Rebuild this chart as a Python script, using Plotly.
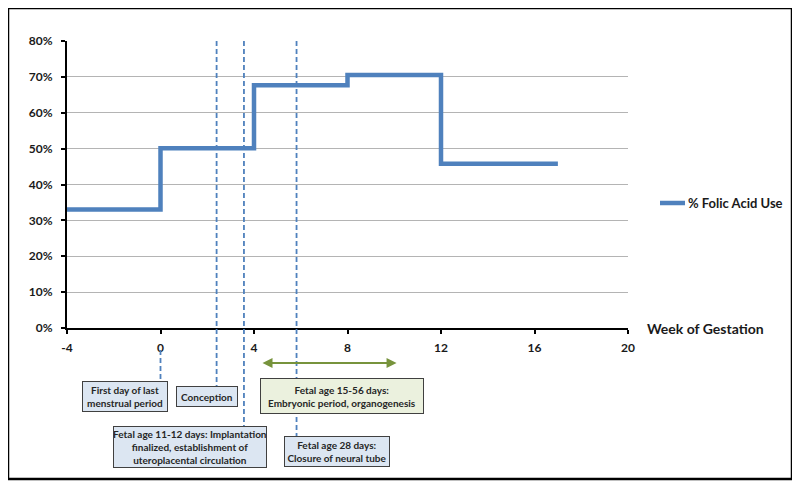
import plotly.graph_objects as go

# ---- data ----
weeks = [-4, 0, 4, 8, 12, 17]
folic_use = [0.33, 0.501, 0.677, 0.705, 0.458, 0.458]
series_name = "% Folic Acid Use"
x_ticks = [-4, 0, 4, 8, 12, 16, 20]
x_tick_labels = ["-4", "0", "4", "8", "12", "16", "20"]
y_ticks = [0, 0.1, 0.2, 0.3, 0.4, 0.5, 0.6, 0.7, 0.8]
y_tick_labels = ["0%", "10%", "20%", "30%", "40%", "50%", "60%", "70%", "80%"]

event_weeks = {"lmp": 0.0, "conception": 2.4, "implantation": 3.57, "neural": 5.82}
embryonic_start, embryonic_end = 4.3, 10.1

# ---- layout geometry (reference-screen pixels) ----
OFF = 8  # page body margin
L, R, T, B = 67, 628, 41, 328
W, H = 800 - OFF, 487 - OFF
XMIN, XMAX = -4, 20
pxw = (R - L) / (XMAX - XMIN)


def px2x(px):
    return (px - L) / pxw + XMIN


def py2p(py):
    return (B - py) / (B - T)


def px2p(px):
    return (px - L) / (R - L)


FONT = "Lato, 'Open Sans', sans-serif"
BLUE = "#4F81BD"
GREEN = "#77933C"
TXT = "#1a1a1a"

fig = go.Figure()
fig.add_trace(go.Scatter(
    x=weeks, y=folic_use, mode="lines", line_shape="hv",
    line=dict(color=BLUE, width=4.5), name=series_name, showlegend=False,
))

shapes = []
# outer frame
shapes.append(dict(type="rect", xref="paper", yref="paper",
                   x0=px2p(8), x1=px2p(792), y0=py2p(479), y1=py2p(8),
                   line=dict(color="black", width=2.5), layer="below"))

dash = dict(color=BLUE, width=1.8, dash="5px,3px")
# dashed event lines
shapes.append(dict(type="line", xref="x", yref="paper",
                   x0=event_weeks["lmp"], x1=event_weeks["lmp"],
                   y0=py2p(350), y1=py2p(381), line=dash))
shapes.append(dict(type="line", xref="x", yref="paper",
                   x0=event_weeks["conception"], x1=event_weeks["conception"],
                   y0=py2p(41), y1=py2p(386), line=dash))
shapes.append(dict(type="line", xref="x", yref="paper",
                   x0=event_weeks["implantation"], x1=event_weeks["implantation"],
                   y0=py2p(41), y1=py2p(426), line=dash))
shapes.append(dict(type="line", xref="x", yref="paper",
                   x0=event_weeks["neural"], x1=event_weeks["neural"],
                   y0=py2p(41), y1=py2p(436), line=dash))

# manual legend sample line
shapes.append(dict(type="line", xref="paper", yref="paper",
                   x0=px2p(660), x1=px2p(685), y0=py2p(203), y1=py2p(203),
                   line=dict(color=BLUE, width=4.5)))

annotations = []
box_font = dict(family=FONT, size=10, color="#262626")


def box(cx, cy, w, h, text, bg):
    annotations.append(dict(
        xref="x", yref="paper", x=px2x(cx), y=py2p(cy),
        xanchor="center", yanchor="middle", text=text, showarrow=False,
        width=w, height=h, bgcolor=bg, bordercolor="#404040", borderwidth=1,
        borderpad=0, font=box_font, align="center",
    ))


LB = "#DCE6F2"
box(125, 396.5, 84, 29, "<b>First day of last<br>menstrual period</b>", LB)
box(207, 396.5, 60, 19, "<b>Conception</b>", LB)
box(190, 447, 152, 40,
    "<b>Fetal age 11-12 days: Implantation<br>finalized, establishment of<br>uteroplacental circulation</b>", LB)
box(337, 451.5, 104, 29, "<b>Fetal age 28 days:<br>Closure of neural tube</b>", LB)
box(342, 396, 162, 34, "<b>Fetal age 15-56 days:<br>Embryonic period, organogenesis</b>", "#EBF1DE")

# double-headed arrow for embryonic period
annotations.append(dict(
    xref="x", yref="paper", x=embryonic_end, y=py2p(363),
    axref="x", ayref="pixel", ax=embryonic_start, ay=0,
    showarrow=True, arrowhead=2, arrowside="end+start", arrowsize=1,
    arrowwidth=2, arrowcolor=GREEN, text="",
))

# legend text
annotations.append(dict(
    xref="paper", yref="paper", x=px2p(686), y=py2p(203),
    xanchor="left", yanchor="middle", showarrow=False,
    text="<b>" + series_name + "</b>", font=dict(family=FONT, size=13, color=TXT),
))

# x-axis title
annotations.append(dict(
    xref="paper", yref="paper", x=px2p(645), y=py2p(328),
    xanchor="left", yanchor="middle", showarrow=False,
    text="<b>Week of Gestation</b>", font=dict(family=FONT, size=14, color=TXT),
))

fig.update_layout(
    width=W, height=H,
    margin=dict(l=L - OFF, r=800 - R, t=T - OFF, b=487 - B, pad=0, autoexpand=False),
    paper_bgcolor="white", plot_bgcolor="white",
    shapes=shapes, annotations=annotations,
    showlegend=False,
    xaxis=dict(range=[XMIN, XMAX], tickvals=x_ticks,
               ticktext=["<b>" + t + "</b>" for t in x_tick_labels],
               showgrid=False, zeroline=False, automargin=False,
               showline=True, linecolor="black", linewidth=2,
               ticks="outside", ticklen=4, tickcolor="black", tickwidth=1.5,
               tickfont=dict(family=FONT, size=12, color=TXT),
               ticklabelstandoff=4),
    yaxis=dict(range=[0, 0.8], tickvals=y_ticks,
               ticktext=["<b>" + t + "</b>" for t in y_tick_labels],
               showgrid=True, gridcolor="#B4B4B4", gridwidth=1, zeroline=False,
               automargin=False,
               showline=True, linecolor="black", linewidth=2,
               ticks="outside", ticklen=4, tickcolor="black", tickwidth=1.5,
               tickfont=dict(family=FONT, size=12, color=TXT),
               ticklabelstandoff=6),
)

fig.write_html("out.html")
